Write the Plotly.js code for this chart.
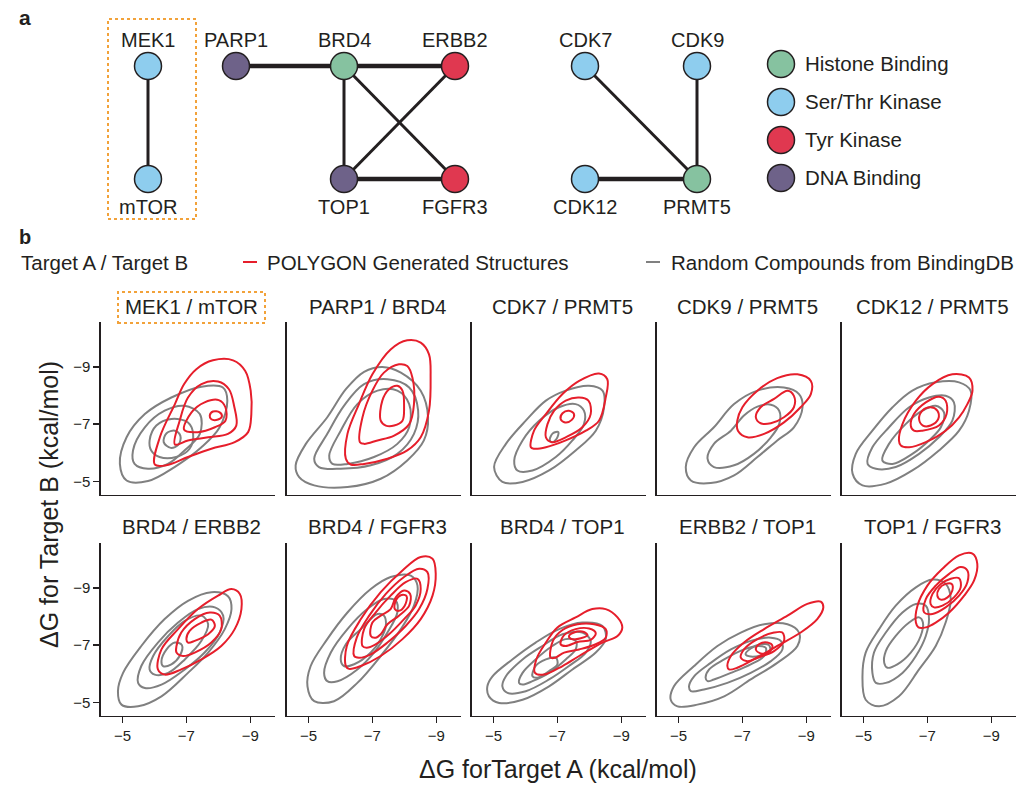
<!DOCTYPE html>
<html><head><meta charset="utf-8">
<script src="https://cdn.plot.ly/plotly-3.0.1.min.js"></script>
<style>html,body{margin:0;padding:0;background:#fff}#chart{width:1031px;height:789px}</style>
</head><body><div id="chart"></div><script>
// ---------- panel a : network ----------
const nodeNames = ['MEK1','mTOR','PARP1','BRD4','ERBB2','TOP1','FGFR3','CDK7','CDK9','CDK12','PRMT5'];
const nodeX = [148,148,236,344,455,344,455,585,697,585,697];
const nodeRow = [1,0,1,1,1,0,0,1,1,0,0];
const nodeClass = ['Ser/Thr Kinase','Ser/Thr Kinase','DNA Binding','Histone Binding','Tyr Kinase','DNA Binding','Tyr Kinase','Ser/Thr Kinase','Ser/Thr Kinase','Ser/Thr Kinase','Histone Binding'];
const classNames = ['Histone Binding','Ser/Thr Kinase','Tyr Kinase','DNA Binding'];
const classColors = ['#86c2a0','#8ecdee','#e03850','#6e6289'];
const edgeFrom = ['MEK1','PARP1','BRD4','BRD4','BRD4','ERBB2','TOP1','CDK7','CDK9','CDK12'];
const edgeTo   = ['mTOR','BRD4','ERBB2','TOP1','FGFR3','TOP1','FGFR3','PRMT5','PRMT5','PRMT5'];
const edgeStrong = [false,true,true,false,false,false,true,false,false,true];

// ---------- panel b : KDE contour lines (dG target A, dG target B) ----------
const pairTitles = ['MEK1 / mTOR','PARP1 / BRD4','CDK7 / PRMT5','CDK9 / PRMT5','CDK12 / PRMT5',
                    'BRD4 / ERBB2','BRD4 / FGFR3','BRD4 / TOP1','ERBB2 / TOP1','TOP1 / FGFR3'];
const axisTicks = [-5,-7,-9];

const gen_MEK1_mTOR = [
 [[-6.01,-5.59],[-6.17,-6.54],[-6.64,-7.70],[-6.93,-8.40],[-7.31,-8.92],[-7.83,-9.23],[-8.46,-9.23],[-8.84,-8.86],[-9.01,-8.17],[-9.03,-7.35],[-8.93,-6.72],[-8.51,-6.37],[-7.78,-6.14],[-7.05,-5.85],[-6.37,-5.56]],
 [[-6.64,-6.29],[-6.79,-7.12],[-7.05,-7.93],[-7.47,-8.40],[-7.99,-8.49],[-8.33,-8.22],[-8.49,-7.64],[-8.56,-6.95],[-8.30,-6.66],[-7.68,-6.54],[-7.05,-6.43]],
 [[-6.93,-6.80],[-7.16,-7.41],[-7.57,-7.76],[-8.01,-7.84],[-8.22,-7.59],[-8.22,-7.12],[-7.89,-6.89],[-7.36,-6.72]],
 [[-7.73,-7.30],[-7.83,-7.44],[-8.04,-7.41],[-8.11,-7.27],[-7.99,-7.16],[-7.78,-7.17]]
];
const rnd_MEK1_mTOR = [
 [[-4.92,-5.61],[-5.13,-6.54],[-5.70,-7.35],[-6.53,-7.93],[-7.47,-8.31],[-8.14,-8.28],[-8.28,-7.82],[-8.04,-6.89],[-7.47,-6.19],[-6.63,-5.50],[-5.80,-5.01],[-5.13,-5.03]],
 [[-5.33,-6.08],[-5.70,-6.89],[-6.32,-7.47],[-6.94,-7.64],[-7.42,-7.35],[-7.42,-6.66],[-6.94,-6.08],[-6.42,-5.61],[-5.80,-5.44],[-5.38,-5.61]],
 [[-5.85,-6.43],[-6.06,-6.95],[-6.53,-7.18],[-7.05,-7.06],[-7.21,-6.66],[-7.10,-6.14],[-6.68,-5.85],[-6.16,-5.85],[-5.90,-6.08]],
 [[-6.29,-6.37],[-6.38,-6.68],[-6.64,-6.77],[-6.81,-6.60],[-6.76,-6.29],[-6.51,-6.17]]
];
const gen_PARP1_BRD4 = [
 [[-6.17,-5.79],[-6.22,-6.66],[-6.58,-7.70],[-7.00,-8.74],[-7.57,-9.61],[-8.09,-9.93],[-8.51,-9.85],[-8.77,-9.44],[-8.82,-8.63],[-8.77,-7.47],[-8.51,-6.54],[-8.09,-6.08],[-7.47,-5.79],[-6.74,-5.61],[-6.32,-5.59]],
 [[-6.61,-6.37],[-6.69,-7.24],[-7.00,-8.17],[-7.36,-8.80],[-7.83,-9.09],[-8.09,-9.03],[-8.25,-8.63],[-8.30,-7.70],[-8.15,-7.00],[-7.68,-6.60],[-7.16,-6.43],[-6.74,-6.31]],
 [[-7.26,-7.12],[-7.31,-7.82],[-7.52,-8.22],[-7.78,-8.34],[-7.94,-8.17],[-7.99,-7.59],[-7.94,-7.12],[-7.68,-6.95],[-7.42,-6.95]]
];
const rnd_PARP1_BRD4 = [
 [[-4.60,-5.56],[-4.92,-6.31],[-5.59,-7.24],[-6.17,-8.22],[-6.74,-8.83],[-7.31,-9.00],[-7.89,-8.80],[-8.51,-8.17],[-8.74,-7.24],[-8.61,-6.43],[-8.09,-5.73],[-7.26,-5.09],[-6.22,-4.80],[-5.18,-4.86],[-4.71,-5.15]],
 [[-5.18,-5.79],[-5.59,-6.66],[-6.11,-7.64],[-6.74,-8.40],[-7.47,-8.57],[-8.15,-8.28],[-8.43,-7.47],[-8.30,-6.66],[-7.78,-5.96],[-6.95,-5.56],[-6.01,-5.44],[-5.33,-5.50]],
 [[-5.65,-5.90],[-6.01,-6.77],[-6.53,-7.70],[-7.16,-8.17],[-7.78,-8.17],[-8.15,-7.70],[-8.15,-6.89],[-7.78,-6.31],[-7.05,-5.85],[-6.22,-5.61],[-5.75,-5.61]]
];
const gen_CDK7_PRMT5 = [
 [[-6.17,-6.19],[-6.27,-6.77],[-6.64,-7.35],[-7.16,-8.05],[-7.68,-8.51],[-8.30,-8.77],[-8.56,-8.57],[-8.51,-7.93],[-8.30,-7.12],[-7.89,-6.77],[-7.26,-6.43],[-6.64,-6.19],[-6.27,-6.14]],
 [[-6.64,-6.54],[-6.69,-7.00],[-6.90,-7.47],[-7.26,-7.82],[-7.68,-7.93],[-7.97,-7.82],[-8.04,-7.35],[-7.78,-6.89],[-7.26,-6.54],[-6.84,-6.37]],
 [[-7.10,-7.18],[-7.16,-7.38],[-7.36,-7.47],[-7.52,-7.35],[-7.45,-7.15],[-7.24,-7.06]]
];
const rnd_CDK7_PRMT5 = [
 [[-5.02,-5.50],[-5.39,-6.31],[-6.01,-7.12],[-6.64,-7.82],[-7.26,-8.17],[-7.99,-8.34],[-8.41,-8.17],[-8.46,-7.59],[-8.20,-6.77],[-7.57,-6.08],[-6.74,-5.38],[-5.91,-4.98],[-5.28,-4.98]],
 [[-5.65,-5.73],[-5.91,-6.43],[-6.43,-7.12],[-7.05,-7.59],[-7.57,-7.70],[-7.83,-7.47],[-7.83,-7.00],[-7.47,-6.43],[-6.95,-5.85],[-6.22,-5.38],[-5.75,-5.38]],
 [[-6.76,-6.45],[-6.86,-6.68],[-7.03,-6.72],[-6.97,-6.48],[-6.82,-6.37]]
];
const gen_CDK9_PRMT5 = [
 [[-6.84,-7.12],[-7.00,-7.59],[-7.47,-8.17],[-8.09,-8.61],[-8.72,-8.74],[-9.14,-8.51],[-9.14,-8.05],[-8.82,-7.59],[-8.30,-7.06],[-7.68,-6.66],[-7.16,-6.54],[-6.86,-6.77]],
 [[-7.42,-7.24],[-7.57,-7.59],[-7.99,-7.88],[-8.41,-8.17],[-8.61,-7.99],[-8.61,-7.59],[-8.30,-7.24],[-7.89,-7.03],[-7.57,-7.03]]
];
const rnd_CDK9_PRMT5 = [
 [[-5.23,-5.50],[-5.49,-6.19],[-6.11,-6.89],[-6.74,-7.70],[-7.47,-8.17],[-8.30,-8.28],[-8.77,-8.05],[-8.88,-7.59],[-8.61,-6.89],[-8.09,-6.43],[-7.47,-5.85],[-6.74,-5.21],[-6.01,-4.94],[-5.39,-5.03]],
 [[-5.91,-5.79],[-6.11,-6.31],[-6.64,-6.77],[-7.05,-7.30],[-7.47,-7.61],[-7.89,-7.68],[-8.15,-7.47],[-8.15,-7.00],[-7.89,-6.54],[-7.36,-5.96],[-6.74,-5.56],[-6.11,-5.50]]
];
const gen_CDK12_PRMT5 = [
 [[-6.11,-6.43],[-6.22,-7.00],[-6.64,-7.82],[-7.16,-8.40],[-7.78,-8.74],[-8.30,-8.63],[-8.41,-8.17],[-8.25,-7.70],[-7.99,-7.24],[-7.57,-6.77],[-6.95,-6.37],[-6.43,-6.19],[-6.17,-6.25]],
 [[-6.48,-6.95],[-6.58,-7.35],[-6.95,-7.76],[-7.36,-7.96],[-7.57,-7.82],[-7.60,-7.35],[-7.36,-6.95],[-6.84,-6.77],[-6.58,-6.77]],
 [[-6.74,-7.18],[-6.84,-7.47],[-7.10,-7.59],[-7.31,-7.47],[-7.34,-7.18],[-7.10,-6.95],[-6.86,-6.95]]
];
const rnd_CDK12_PRMT5 = [
 [[-4.66,-5.27],[-4.76,-5.96],[-5.28,-6.77],[-5.91,-7.59],[-6.53,-8.17],[-7.26,-8.46],[-7.99,-8.46],[-8.35,-8.17],[-8.30,-7.47],[-7.99,-6.77],[-7.36,-6.08],[-6.53,-5.38],[-5.70,-4.92],[-4.97,-4.86]],
 [[-5.13,-5.61],[-5.28,-6.19],[-5.80,-6.89],[-6.43,-7.59],[-7.05,-7.93],[-7.57,-7.99],[-7.83,-7.76],[-7.78,-7.12],[-7.36,-6.54],[-6.74,-5.96],[-6.01,-5.50],[-5.39,-5.44]],
 [[-5.59,-5.73],[-5.80,-6.31],[-6.32,-7.00],[-6.84,-7.47],[-7.26,-7.64],[-7.52,-7.41],[-7.42,-6.89],[-7.05,-6.43],[-6.53,-5.96],[-5.91,-5.61]]
];
const gen_BRD4_ERBB2 = [
 [[-6.11,-6.15],[-6.22,-6.85],[-6.74,-7.56],[-7.36,-8.26],[-7.99,-8.73],[-8.41,-8.96],[-8.67,-8.79],[-8.72,-8.26],[-8.51,-7.56],[-8.09,-6.97],[-7.47,-6.50],[-6.84,-6.15],[-6.32,-5.97]],
 [[-6.69,-6.97],[-6.84,-7.44],[-7.26,-7.91],[-7.73,-8.14],[-8.04,-8.03],[-8.09,-7.56],[-7.78,-7.09],[-7.26,-6.74],[-6.90,-6.62],[-6.69,-6.74]],
 [[-7.00,-7.21],[-7.10,-7.50],[-7.47,-7.79],[-7.78,-7.89],[-7.89,-7.67],[-7.68,-7.38],[-7.26,-7.15],[-7.05,-7.09]]
];
const rnd_BRD4_ERBB2 = [
 [[-4.86,-5.39],[-5.02,-6.03],[-5.59,-6.97],[-6.32,-7.91],[-7.05,-8.55],[-7.78,-8.85],[-8.30,-8.71],[-8.41,-8.26],[-8.20,-7.56],[-7.68,-6.74],[-7.05,-6.03],[-6.22,-5.21],[-5.49,-4.86],[-4.97,-4.92]],
 [[-5.49,-5.68],[-5.59,-6.27],[-6.11,-7.09],[-6.74,-7.79],[-7.36,-8.26],[-7.89,-8.32],[-8.15,-8.03],[-8.04,-7.44],[-7.57,-6.74],[-6.95,-6.15],[-6.22,-5.62],[-5.70,-5.50]],
 [[-5.85,-6.15],[-5.96,-6.62],[-6.43,-7.32],[-6.95,-7.85],[-7.47,-8.03],[-7.68,-7.73],[-7.47,-7.15],[-6.95,-6.50],[-6.43,-6.03],[-6.01,-5.97]],
 [[-6.22,-6.44],[-6.38,-6.85],[-6.64,-7.09],[-6.86,-7.00],[-6.79,-6.62],[-6.53,-6.33],[-6.27,-6.27]]
];
const gen_BRD4_FGFR3 = [
 [[-6.17,-6.27],[-6.20,-6.97],[-6.64,-7.91],[-7.26,-8.85],[-7.94,-9.61],[-8.51,-10.08],[-8.88,-10.02],[-8.98,-9.49],[-8.88,-8.73],[-8.51,-7.91],[-7.94,-7.21],[-7.26,-6.62],[-6.64,-6.27],[-6.27,-6.17]],
 [[-6.43,-6.62],[-6.51,-7.26],[-6.90,-8.03],[-7.42,-8.79],[-7.99,-9.38],[-8.46,-9.67],[-8.72,-9.55],[-8.72,-8.96],[-8.46,-8.26],[-8.04,-7.67],[-7.47,-7.09],[-6.95,-6.68],[-6.58,-6.56]],
 [[-6.69,-6.97],[-6.74,-7.56],[-7.10,-8.14],[-7.57,-8.73],[-8.04,-9.20],[-8.41,-9.32],[-8.51,-8.96],[-8.35,-8.38],[-7.99,-7.91],[-7.52,-7.38],[-7.10,-7.03],[-6.82,-6.91]],
 [[-6.95,-7.32],[-7.00,-7.79],[-7.26,-8.03],[-7.57,-8.26],[-7.73,-8.67],[-7.99,-8.91],[-8.18,-8.79],[-8.15,-8.38],[-7.83,-8.03],[-7.47,-7.73],[-7.26,-7.38],[-7.10,-7.26]],
 [[-7.70,-8.26],[-7.73,-8.55],[-7.91,-8.75],[-8.07,-8.71],[-8.01,-8.38],[-7.83,-8.20]]
];
const rnd_BRD4_FGFR3 = [
 [[-4.97,-5.56],[-5.07,-6.27],[-5.59,-7.21],[-6.22,-8.14],[-6.95,-8.96],[-7.57,-9.38],[-8.20,-9.43],[-8.41,-9.08],[-8.30,-8.38],[-7.89,-7.56],[-7.26,-6.62],[-6.53,-5.68],[-5.80,-5.04],[-5.18,-5.04]],
 [[-5.49,-6.03],[-5.70,-6.74],[-6.22,-7.56],[-6.84,-8.26],[-7.36,-8.61],[-7.73,-8.55],[-7.78,-8.14],[-7.47,-7.44],[-7.05,-6.74],[-6.53,-6.15],[-5.91,-5.74],[-5.59,-5.74]],
 [[-6.01,-6.50],[-6.17,-7.03],[-6.64,-7.56],[-7.16,-8.09],[-7.36,-8.03],[-7.42,-7.67],[-7.26,-7.21],[-6.95,-6.74],[-6.43,-6.33],[-6.11,-6.27]]
];
const gen_BRD4_TOP1 = [
 [[-6.30,-6.03],[-6.34,-6.50],[-6.64,-7.09],[-7.00,-7.62],[-7.57,-7.97],[-8.09,-8.26],[-8.51,-8.26],[-8.88,-7.97],[-9.03,-7.62],[-8.88,-7.32],[-8.41,-7.09],[-7.68,-6.62],[-7.16,-6.27],[-6.58,-5.97]],
 [[-6.79,-6.56],[-6.86,-7.15],[-7.16,-7.53],[-7.63,-7.73],[-8.15,-7.73],[-8.51,-7.56],[-8.51,-7.26],[-8.20,-7.03],[-7.68,-6.85],[-7.21,-6.74],[-6.93,-6.56]],
 [[-7.10,-7.03],[-7.21,-7.35],[-7.57,-7.56],[-7.99,-7.58],[-8.20,-7.42],[-8.04,-7.18],[-7.63,-7.11],[-7.26,-6.97]],
 [[-7.36,-7.30],[-7.52,-7.44],[-7.83,-7.46],[-7.94,-7.35],[-7.73,-7.24],[-7.45,-7.21]]
];
const rnd_BRD4_TOP1 = [
 [[-4.81,-5.56],[-4.97,-5.91],[-5.59,-6.50],[-6.32,-7.09],[-7.05,-7.56],[-7.78,-7.79],[-8.41,-7.67],[-8.51,-7.21],[-8.20,-6.74],[-7.47,-6.15],[-6.74,-5.56],[-5.91,-5.09],[-5.18,-4.98],[-4.86,-5.21]],
 [[-5.28,-5.56],[-5.39,-5.91],[-5.91,-6.50],[-6.53,-6.97],[-7.16,-7.38],[-7.78,-7.44],[-8.04,-7.15],[-7.89,-6.74],[-7.36,-6.27],[-6.74,-5.80],[-6.01,-5.39],[-5.44,-5.33]],
 [[-5.80,-5.68],[-5.91,-6.03],[-6.32,-6.50],[-6.84,-6.97],[-7.26,-7.21],[-7.57,-7.15],[-7.57,-6.85],[-7.26,-6.50],[-6.74,-6.03],[-6.22,-5.74],[-5.91,-5.62]],
 [[-6.22,-5.91],[-6.32,-6.27],[-6.64,-6.50],[-6.95,-6.56],[-7.00,-6.33],[-6.74,-6.09],[-6.38,-5.86]]
];
const gen_ERBB2_TOP1 = [
 [[-6.53,-6.27],[-6.64,-6.62],[-7.05,-7.09],[-7.68,-7.56],[-8.41,-8.03],[-9.03,-8.44],[-9.45,-8.52],[-9.53,-8.32],[-9.34,-7.91],[-8.82,-7.44],[-8.09,-6.97],[-7.36,-6.50],[-6.84,-6.21],[-6.58,-6.15]],
 [[-6.95,-6.56],[-7.05,-6.85],[-7.47,-7.21],[-7.99,-7.44],[-8.25,-7.44],[-8.30,-7.15],[-7.99,-6.79],[-7.47,-6.56],[-7.16,-6.44]],
 [[-7.42,-6.85],[-7.52,-7.03],[-7.78,-7.09],[-7.94,-6.97],[-7.83,-6.76],[-7.57,-6.71]]
];
const rnd_ERBB2_TOP1 = [
 [[-4.76,-5.09],[-4.86,-5.56],[-5.49,-6.27],[-6.22,-6.97],[-6.95,-7.44],[-7.68,-7.73],[-8.41,-7.73],[-8.77,-7.44],[-8.72,-6.97],[-8.09,-6.38],[-7.26,-5.80],[-6.43,-5.21],[-5.59,-4.92],[-4.97,-4.86]],
 [[-5.33,-5.56],[-5.49,-5.91],[-6.01,-6.38],[-6.64,-6.85],[-7.26,-7.15],[-7.89,-7.26],[-8.20,-7.15],[-8.25,-6.85],[-7.89,-6.44],[-7.26,-6.03],[-6.53,-5.68],[-5.80,-5.45],[-5.39,-5.39]],
 [[-5.85,-5.86],[-5.96,-6.15],[-6.43,-6.50],[-7.05,-6.85],[-7.47,-6.97],[-7.73,-6.91],[-7.68,-6.62],[-7.26,-6.33],[-6.64,-6.03],[-6.11,-5.80],[-5.91,-5.74]],
 [[-7.10,-6.68],[-7.26,-6.88],[-7.57,-7.03],[-7.83,-7.00],[-7.86,-6.79],[-7.57,-6.64],[-7.26,-6.60]]
];
const gen_TOP1_FGFR3 = [
 [[-6.64,-7.79],[-6.69,-8.38],[-7.00,-9.08],[-7.47,-9.67],[-7.99,-10.14],[-8.41,-10.20],[-8.56,-9.84],[-8.46,-9.26],[-8.15,-8.73],[-7.68,-8.14],[-7.26,-7.79],[-6.95,-7.62],[-6.72,-7.62]],
 [[-6.90,-8.14],[-6.95,-8.61],[-7.26,-9.08],[-7.68,-9.49],[-8.04,-9.73],[-8.25,-9.61],[-8.25,-9.20],[-7.99,-8.73],[-7.57,-8.32],[-7.16,-8.09]],
 [[-7.10,-8.44],[-7.16,-8.79],[-7.42,-9.14],[-7.73,-9.32],[-7.99,-9.34],[-8.04,-9.02],[-7.83,-8.67],[-7.47,-8.38],[-7.21,-8.32]],
 [[-7.31,-8.73],[-7.36,-8.96],[-7.57,-9.14],[-7.76,-9.14],[-7.78,-8.91],[-7.63,-8.67],[-7.42,-8.59]]
];
const rnd_TOP1_FGFR3 = [
 [[-4.97,-5.91],[-5.07,-6.74],[-5.49,-7.56],[-6.01,-8.38],[-6.64,-9.02],[-7.16,-9.29],[-7.57,-9.14],[-7.73,-8.61],[-7.57,-7.79],[-7.26,-6.97],[-6.74,-6.15],[-6.11,-5.21],[-5.49,-4.86],[-5.07,-5.09]],
 [[-5.28,-6.03],[-5.33,-6.74],[-5.70,-7.44],[-6.22,-8.14],[-6.64,-8.44],[-6.95,-8.38],[-7.05,-7.91],[-6.95,-7.32],[-6.64,-6.62],[-6.22,-6.03],[-5.70,-5.68],[-5.39,-5.68]],
 [[-5.65,-6.38],[-5.70,-6.79],[-6.01,-7.32],[-6.43,-7.79],[-6.74,-7.97],[-6.86,-7.79],[-6.79,-7.32],[-6.48,-6.74],[-6.06,-6.33],[-5.75,-6.21]]
];

const genSets = [gen_MEK1_mTOR, gen_PARP1_BRD4, gen_CDK7_PRMT5, gen_CDK9_PRMT5, gen_CDK12_PRMT5,
                 gen_BRD4_ERBB2, gen_BRD4_FGFR3, gen_BRD4_TOP1, gen_ERBB2_TOP1, gen_TOP1_FGFR3];
const rndSets = [rnd_MEK1_mTOR, rnd_PARP1_BRD4, rnd_CDK7_PRMT5, rnd_CDK9_PRMT5, rnd_CDK12_PRMT5,
                 rnd_BRD4_ERBB2, rnd_BRD4_FGFR3, rnd_BRD4_TOP1, rnd_ERBB2_TOP1, rnd_TOP1_FGFR3];

// ---------- drawing ----------
const W = 1031, H = 789;
const FONT = 'Liberation Sans, Arial, Helvetica, sans-serif';
const INK = '#231f20';
const RED = '#e61e2b', GRAY = '#808080', ORANGE = '#f2a23a';
const px = v => v / W, py = v => 1 - v / H;

const traces = [];
const layout = {
  width: W, height: H, margin: {l:0, r:0, t:0, b:0},
  paper_bgcolor: '#fff', plot_bgcolor: 'rgba(0,0,0,0)',
  showlegend: false, font: {family: FONT, color: INK},
  annotations: [], shapes: []
};

// contour panels
const colLeft = [101, 287, 472, 657, 842], colW = 174;
const rowTop = [322, 543], rowH = 172.5;
pairTitles.forEach((title, i) => {
  const col = i % 5, row = Math.floor(i / 5);
  const n = i + 1, sfx = n === 1 ? '' : String(n);
  layout['xaxis' + sfx] = {
    domain: [px(colLeft[col]), px(colLeft[col] + colW)], anchor: 'y' + sfx,
    range: [-4.33, -9.77], showline: true, linecolor: INK, linewidth: 1.6,
    showgrid: false, zeroline: false, fixedrange: true,
    tickvals: axisTicks, ticks: row === 1 ? 'outside' : '', ticklen: 6, tickwidth: 1.5, tickcolor: INK,
    showticklabels: row === 1, tickfont: {size: 15, family: FONT, color: INK}
  };
  layout['yaxis' + sfx] = {
    domain: [py(rowTop[row] + rowH), py(rowTop[row])], anchor: 'x' + sfx,
    range: [-4.54, -10.57], showline: true, linecolor: INK, linewidth: 1.6,
    showgrid: false, zeroline: false, fixedrange: true,
    tickvals: axisTicks, ticks: col === 0 ? 'outside' : '', ticklen: 6, tickwidth: 1.5, tickcolor: INK,
    showticklabels: col === 0, tickfont: {size: 15, family: FONT, color: INK}
  };
  [[rndSets[i], GRAY, 'Random Compounds from BindingDB'], [genSets[i], RED, 'POLYGON Generated Structures']].forEach(([set, color, name]) => {
    set.forEach(c => {
      const xs = c.map(p => p[0]); xs.push(c[0][0]);
      const ys = c.map(p => p[1]); ys.push(c[0][1]);
      traces.push({type: 'scatter', mode: 'lines', x: xs, y: ys, name: name,
        xaxis: 'x' + sfx, yaxis: 'y' + sfx, hoverinfo: 'skip',
        line: {color: color, width: 2, shape: 'spline', smoothing: 1, simplify: false}});
    });
  });
  layout.annotations.push({xref: 'paper', yref: 'paper', x: px(colLeft[col] + colW / 2 + 3), y: py(row === 0 ? 306 : 526),
    text: title, showarrow: false, xanchor: 'center', yanchor: 'middle', font: {size: 20.5, family: FONT, color: INK}});
});
// highlighted title box
layout.shapes.push({type: 'rect', xref: 'paper', yref: 'paper', x0: px(118), x1: px(265), y0: py(323), y1: py(292),
  line: {color: ORANGE, width: 2, dash: '3px,3px'}});

// axis titles
layout.annotations.push({xref: 'paper', yref: 'paper', x: px(49), y: py(505), text: 'ΔG for Target B (kcal/mol)',
  textangle: -90, showarrow: false, xanchor: 'center', yanchor: 'middle', font: {size: 25, family: FONT, color: INK}});
layout.annotations.push({xref: 'paper', yref: 'paper', x: px(558), y: py(769), text: 'ΔG forTarget A (kcal/mol)',
  showarrow: false, xanchor: 'center', yanchor: 'middle', font: {size: 25, family: FONT, color: INK}});

// panel b legend
const LEGY = 262;
layout.annotations.push({xref: 'paper', yref: 'paper', x: px(19), y: py(LEGY), text: 'Target A / Target B',
  showarrow: false, xanchor: 'left', yanchor: 'middle', font: {size: 20.5, family: FONT, color: INK}});
layout.shapes.push({type: 'line', xref: 'paper', yref: 'paper', x0: px(243), x1: px(257), y0: py(LEGY), y1: py(LEGY), line: {color: RED, width: 2}});
layout.annotations.push({xref: 'paper', yref: 'paper', x: px(265), y: py(LEGY), text: 'POLYGON Generated Structures',
  showarrow: false, xanchor: 'left', yanchor: 'middle', font: {size: 20.5, family: FONT, color: INK}});
layout.shapes.push({type: 'line', xref: 'paper', yref: 'paper', x0: px(646), x1: px(660), y0: py(LEGY), y1: py(LEGY), line: {color: GRAY, width: 2}});
layout.annotations.push({xref: 'paper', yref: 'paper', x: px(669), y: py(LEGY), text: 'Random Compounds from BindingDB',
  showarrow: false, xanchor: 'left', yanchor: 'middle', font: {size: 20.5, family: FONT, color: INK}});

// panel letters
layout.annotations.push({xref: 'paper', yref: 'paper', x: px(17), y: py(18), text: '<b>a</b>', showarrow: false,
  xanchor: 'left', yanchor: 'middle', font: {size: 21, family: FONT, color: INK}});
layout.annotations.push({xref: 'paper', yref: 'paper', x: px(17), y: py(237), text: '<b>b</b>', showarrow: false,
  xanchor: 'left', yanchor: 'middle', font: {size: 20, family: FONT, color: INK}});

// network axis (panel a)
layout.xaxis11 = {domain: [0, 1], range: [0, W], visible: false, fixedrange: true, anchor: 'y11'};
layout.yaxis11 = {domain: [py(230), 1], range: [-0.451, 1.584], visible: false, fixedrange: true, anchor: 'x11'};
const idx = name => nodeNames.indexOf(name);
[true, false].forEach(strong => {
  const ex = [], ey = [];
  edgeFrom.forEach((f, k) => {
    if (edgeStrong[k] !== strong) return;
    ex.push(nodeX[idx(f)], nodeX[idx(edgeTo[k])], null);
    ey.push(nodeRow[idx(f)], nodeRow[idx(edgeTo[k])], null);
  });
  traces.push({type: 'scatter', mode: 'lines', x: ex, y: ey, xaxis: 'x11', yaxis: 'y11', hoverinfo: 'skip',
    line: {color: INK, width: strong ? 4.5 : 3}});
});
traces.push({type: 'scatter', mode: 'markers', x: nodeX, y: nodeRow, xaxis: 'x11', yaxis: 'y11', text: nodeNames, hoverinfo: 'text',
  marker: {size: 27, color: nodeClass.map(c => classColors[classNames.indexOf(c)]), line: {color: INK, width: 1.5}}});
nodeNames.forEach((nm, k) => {
  layout.annotations.push({xref: 'x11', yref: 'y11', x: nodeX[k], y: nodeRow[k] === 1 ? 1 + 26 / 113 : -28 / 113,
    text: nm, showarrow: false, xanchor: 'center', yanchor: 'middle', font: {size: 20, family: FONT, color: INK}});
});
// class legend
const legY = classNames.map((c, k) => 1.018 - k * 0.336);
traces.push({type: 'scatter', mode: 'markers', x: classNames.map(() => 781), y: legY, xaxis: 'x11', yaxis: 'y11', hoverinfo: 'skip',
  marker: {size: 27, color: classColors, line: {color: INK, width: 1.5}}});
classNames.forEach((c, k) => {
  layout.annotations.push({xref: 'x11', yref: 'y11', x: 803, y: legY[k], text: c, showarrow: false,
    xanchor: 'left', yanchor: 'middle', font: {size: 20.5, family: FONT, color: INK}});
});
layout.shapes.push({type: 'rect', xref: 'paper', yref: 'paper', x0: px(108), x1: px(196), y0: py(219), y1: py(19),
  line: {color: ORANGE, width: 2, dash: '3px,3px'}});

Plotly.newPlot('chart', traces, layout, {staticPlot: true, displayModeBar: false});
</script></body></html>
